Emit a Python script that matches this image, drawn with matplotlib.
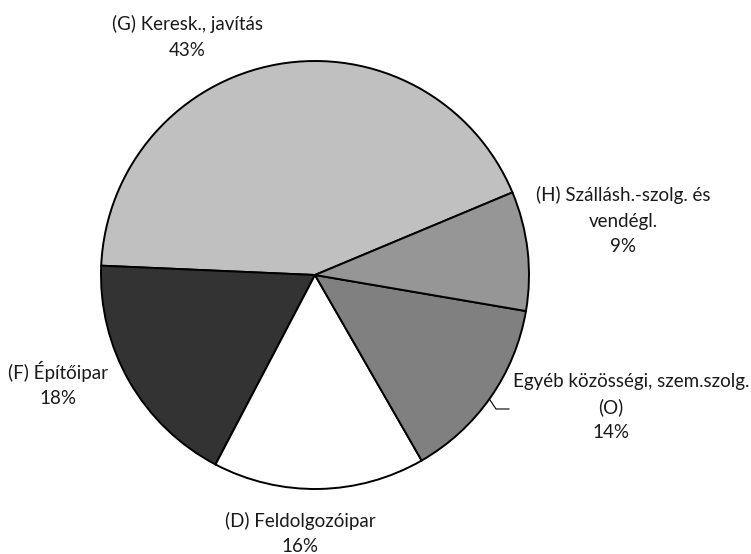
import matplotlib
matplotlib.use("Agg")
import matplotlib.pyplot as plt
from matplotlib.lines import Line2D

# sector data (counter-clockwise from the upper right)
sectors = ["(G) Keresk., javítás", "(F) Építőipar", "(D) Feldolgozóipar",
           "Egyéb közösségi, szem.szolg.\n(O)", "(H) Szállásh.-szolg. és\nvendégl."]
shares = [43, 18, 16, 14, 9]
colors = ["#c0c0c0", "#333333", "#ffffff", "#808080", "#969696"]

W, H = 751, 554
fig = plt.figure(figsize=(W / 100, H / 100), dpi=100)
plt.rcParams['font.family'] = ['Lato', 'DejaVu Sans']

cx, cy, r = 315, 275, 214
ax = fig.add_axes([(cx - r) / W, (H - cy - r) / H, 2 * r / W, 2 * r / H])
ax.pie(shares, colors=colors, startangle=22.7, counterclock=True,
       wedgeprops=dict(edgecolor="black", linewidth=1.4))
ax.set_xlim(-1, 1)
ax.set_ylim(-1, 1)
ax.set_aspect("auto")
ax.axis("off")

# label placement in pixels: x centre of each line, y centre of first line
label_x = [[187, 187], [58, 58], [300, 300], [631, 611, 611], [623, 623, 623]]
label_y = [24, 372, 521, 381, 195]
step = 26
for name, val, xs, y in zip(sectors, shares, label_x, label_y):
    lines = name.split("\n") + [f"{val}%"]
    for i, (txt, x) in enumerate(zip(lines, xs)):
        fig.text(x / W, 1 - (y + i * step) / H, txt, ha="center", va="center",
                 fontsize=13.5, color="#1a1a1a")

# leader line for the O label
fig.add_artist(Line2D([490 / W, 496 / W, 509 / W],
                      [1 - 400 / H, 1 - 409 / H, 1 - 409 / H],
                      color="black", linewidth=0.8))

fig.savefig("out.png", dpi=100)
